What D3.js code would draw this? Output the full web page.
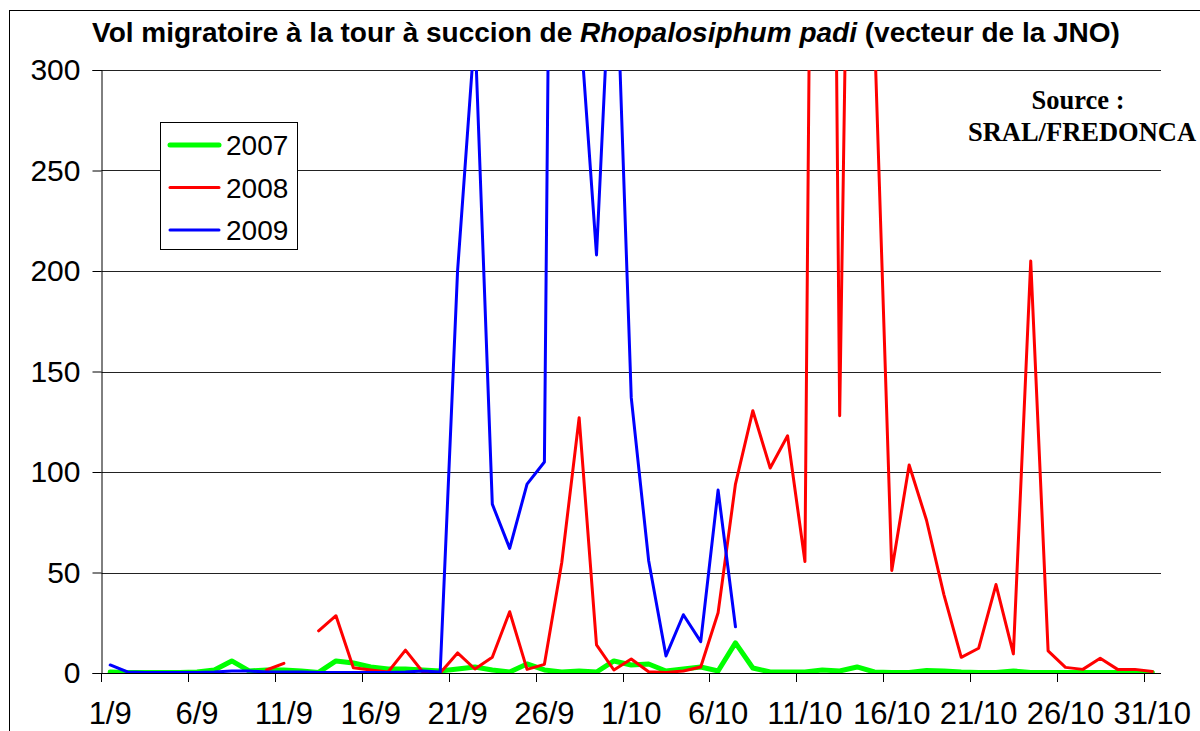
<!DOCTYPE html>
<html>
<head>
<meta charset="utf-8">
<script src="https://cdn.jsdelivr.net/npm/d3@7"></script>
<style>
  body { margin: 0; background: #fff; }
  svg { display: block; }
</style>
</head>
<body>
<svg id="chart" width="1200" height="731"></svg>
<script>
  // categories: one per day, 1 Sept -> 31 Oct
  var days = [
    '1/9','2/9','3/9','4/9','5/9','6/9','7/9','8/9','9/9','10/9',
    '11/9','12/9','13/9','14/9','15/9','16/9','17/9','18/9','19/9','20/9',
    '21/9','22/9','23/9','24/9','25/9','26/9','27/9','28/9','29/9','30/9',
    '1/10','2/10','3/10','4/10','5/10','6/10','7/10','8/10','9/10','10/10',
    '11/10','12/10','13/10','14/10','15/10','16/10','17/10','18/10','19/10','20/10',
    '21/10','22/10','23/10','24/10','25/10','26/10','27/10','28/10','29/10','30/10',
    '31/10'
  ];
  var tickLabels = ['1/9','6/9','11/9','16/9','21/9','26/9','1/10','6/10','11/10','16/10','21/10','26/10','31/10'];
  var yTicks = [0, 50, 100, 150, 200, 250, 300];

  var v2007 = [0.5,0.3,0.3,0.3,0.3,0.5,1.5,6,1,1.5,
               1.5,1,0.3,6,5,3,2,2,1.5,1,
               2,3,1.5,0.5,4.5,1.5,0.5,1,0.5,6,
               4,4.5,1,2,3,1,15,2.5,0.5,0.5,
               0.5,1.5,1,3,0.5,0.3,0.3,1.2,1,0.5,
               0.3,0.3,1,0.3,0.3,0.3,0.3,0.3,0.3,0.3,
               0.3];
  var v2008 = [null,null,null,null,null,null,null,null,null,1.5,
               4.8,null,21,28.5,2.6,1.5,0.5,11.4,0.5,0,
               10,2,7.8,30.5,1.8,4.3,55,127,14,1.5,
               7,0.6,0.3,1,3,30,94,130.5,102,118,
               55.5,1100,128,700,320,51,103.5,76,39,7.8,
               12.3,44,9.5,205,11,2.8,1.8,7.3,1.8,1.8,
               0.8];
  var v2009 = [4,0.5,0.3,0.3,0.3,0.3,0.5,1,1,0.5,
               0.5,0.5,0.3,0.3,0.3,0.3,0.3,0.5,1,0.5,
               200,320,84,62,94,105,1050,330,208,390,
               137,56,8.5,29,15.6,91,23,null,null,null,
               null,null,null,null,null,null,null,null,null,null,
               null,null,null,null,null,null,null,null,null,null,
               null];

  var seriesNames = ['2007', '2008', '2009'];
  var seriesValues = [v2007, v2008, v2009];
  var seriesColors = ['#00ff00', '#ff0000', '#0000ff'];
  var seriesWidths = [5, 3, 3];

  var plotLeft = 101.5, plotRight = 1161, plotTop = 70, plotBottom = 673;
  var sans = 'Liberation Sans, Arial, sans-serif';

  var svg = d3.select('#chart');

  // outer chart border (Excel chart area)
  svg.append('rect')
    .attr('x', 9.5).attr('y', 10.5)
    .attr('width', 1400).attr('height', 1000)
    .attr('fill', 'none').attr('stroke', '#000').attr('stroke-width', 1);

  var x = d3.scalePoint()
    .domain(days)
    .range([plotLeft, plotRight])
    .padding(0.5);
  var step = x.step();

  var y = d3.scaleLinear()
    .domain([0, 300])
    .range([plotBottom, plotTop]);

  // gridlines
  svg.append('g')
    .selectAll('line')
    .data(yTicks.filter(function (d) { return d > 0; }))
    .enter().append('line')
    .attr('x1', plotLeft).attr('x2', plotRight)
    .attr('y1', function (d) { return Math.round(y(d)) + 0.5; })
    .attr('y2', function (d) { return Math.round(y(d)) + 0.5; })
    .attr('stroke', '#222').attr('stroke-width', 1);

  // y axis
  var yAxis = d3.axisLeft(y)
    .tickValues(yTicks)
    .tickSize(9)
    .tickPadding(12);
  var gy = svg.append('g')
    .attr('transform', 'translate(' + plotLeft + ',0)')
    .call(yAxis);
  gy.select('.domain').attr('stroke', '#000');
  gy.selectAll('.tick line').attr('stroke', '#000');
  gy.selectAll('.tick text')
    .attr('font-family', sans)
    .attr('font-size', 30)
    .attr('fill', '#000');

  // x axis: ticks between categories, every 5th day labelled
  var gx = svg.append('g')
    .attr('transform', 'translate(0,' + plotBottom + ')');
  gx.append('line')
    .attr('x1', plotLeft).attr('x2', plotRight)
    .attr('y1', 0.5).attr('y2', 0.5)
    .attr('stroke', '#000');
  gx.selectAll('line.tick')
    .data(tickLabels)
    .enter().append('line')
    .attr('class', 'tick')
    .attr('x1', function (d) { return Math.round(x(d) - step / 2) + 0.5; })
    .attr('x2', function (d) { return Math.round(x(d) - step / 2) + 0.5; })
    .attr('y1', 0).attr('y2', 9)
    .attr('stroke', '#000');
  gx.selectAll('text')
    .data(tickLabels)
    .enter().append('text')
    .attr('x', function (d) { return x(d); })
    .attr('y', 51)
    .attr('text-anchor', 'middle')
    .attr('font-family', sans)
    .attr('font-size', 31)
    .text(function (d) { return d; });

  // series
  svg.append('clipPath').attr('id', 'plot-clip')
    .append('rect')
    .attr('x', plotLeft).attr('y', plotTop)
    .attr('width', plotRight - plotLeft).attr('height', plotBottom - plotTop);

  var line = d3.line()
    .defined(function (d) { return d != null; })
    .x(function (d, i) { return x(days[i]); })
    .y(function (d) { return y(d); });

  svg.append('g')
    .attr('clip-path', 'url(#plot-clip)')
    .selectAll('path')
    .data(seriesValues)
    .enter().append('path')
    .attr('d', line)
    .attr('fill', 'none')
    .attr('stroke', function (d, i) { return seriesColors[i]; })
    .attr('stroke-width', function (d, i) { return seriesWidths[i]; })
    .attr('stroke-linejoin', 'round')
    .attr('stroke-linecap', 'round');

  // legend
  var legend = svg.append('g');
  legend.append('rect')
    .attr('x', 160.5).attr('y', 122.5)
    .attr('width', 137).attr('height', 127)
    .attr('fill', '#fff').attr('stroke', '#000');
  var item = legend.selectAll('g.item')
    .data(seriesNames)
    .enter().append('g')
    .attr('class', 'item')
    .attr('transform', function (d, i) { return 'translate(0,' + (145 + i * 42.5) + ')'; });
  item.append('line')
    .attr('x1', 170).attr('x2', 219)
    .attr('stroke', function (d, i) { return seriesColors[i]; })
    .attr('stroke-width', function (d, i) { return seriesWidths[i]; })
    .attr('stroke-linecap', 'round');
  item.append('text')
    .attr('x', 226).attr('y', 10)
    .attr('font-family', sans)
    .attr('font-size', 28)
    .text(function (d) { return d; });

  // title
  var title = svg.append('text')
    .attr('x', 606).attr('y', 42)
    .attr('text-anchor', 'middle')
    .attr('font-family', sans)
    .attr('font-size', 28)
    .attr('font-weight', 'bold');
  title.append('tspan').text('Vol migratoire à la tour à succion de ');
  title.append('tspan').attr('font-style', 'italic').text('Rhopalosiphum padi');
  title.append('tspan').text(' (vecteur de la JNO)');

  // source note
  var source = svg.append('text')
    .attr('text-anchor', 'middle')
    .attr('font-family', 'Liberation Serif, Times New Roman, serif')
    .attr('font-size', 26.5)
    .attr('font-weight', 'bold');
  source.append('tspan').attr('x', 1078).attr('y', 109).text('Source :');
  source.append('tspan').attr('x', 1082).attr('y', 141).text('SRAL/FREDONCA');
</script>
</body>
</html>
